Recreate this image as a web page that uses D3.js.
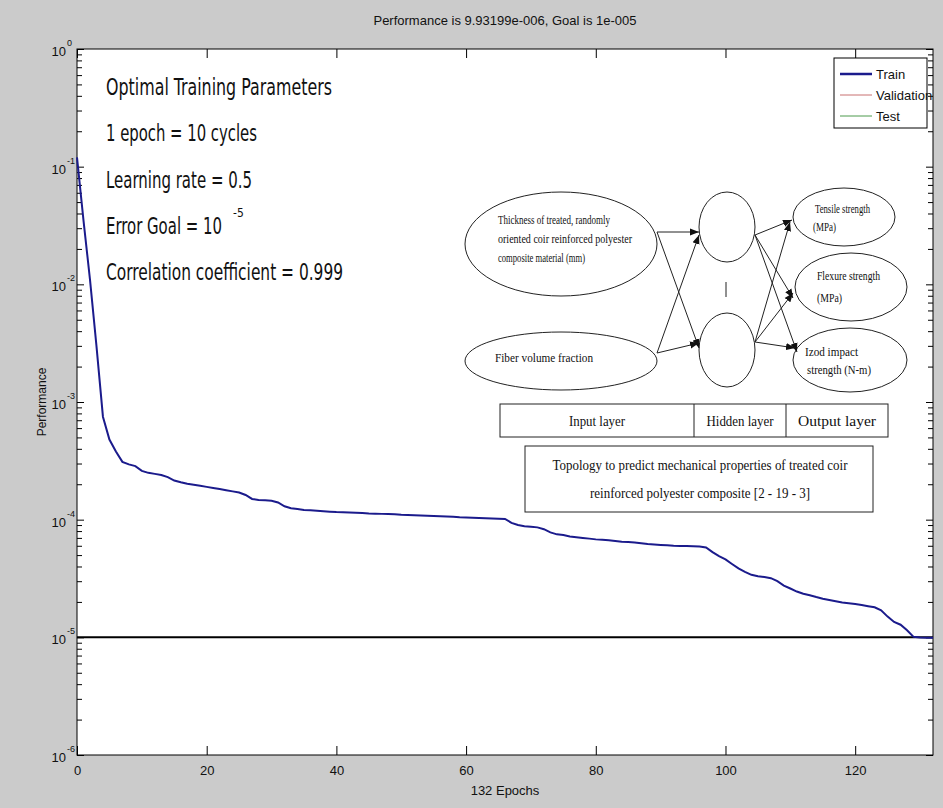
<!DOCTYPE html>
<html>
<head>
<meta charset="utf-8">
<script src="https://cdn.jsdelivr.net/npm/d3@7/dist/d3.min.js"></script>
<style>
    body { margin: 0; background: #cbcbcb; }
    #chart-area { width: 943px; height: 808px; }
    .tick text, .lbl { font-family: "Liberation Sans Narrow", Arial, "Liberation Sans", sans-serif; fill: #111; }
    .params { font-family: "Liberation Sans Narrow", "DejaVu Sans Condensed", sans-serif; fill: #111; }
    .diag { font-family: "Liberation Serif", "Times New Roman", serif; fill: #111; }
</style>
</head>
<body>
<div id="chart-area"></div>
<script>

// performance per epoch (train)
const trainPerf = [
    0.12, 0.035, 0.011, 0.003, 7.5e-4, 4.8e-4, 3.8e-4, 3.1e-4, 2.95e-4, 2.85e-4,
    2.6e-4, 2.5e-4, 2.45e-4, 2.4e-4, 2.3e-4, 2.15e-4, 2.08e-4, 2.02e-4, 1.98e-4, 1.94e-4,
    1.9e-4, 1.86e-4, 1.82e-4, 1.78e-4, 1.74e-4, 1.7e-4, 1.62e-4, 1.5e-4, 1.47e-4, 1.46e-4,
    1.45e-4, 1.4e-4, 1.3e-4, 1.25e-4, 1.23e-4, 1.21e-4, 1.2e-4, 1.19e-4, 1.18e-4, 1.17e-4,
    1.16e-4, 1.155e-4, 1.15e-4, 1.145e-4, 1.14e-4, 1.13e-4, 1.125e-4, 1.12e-4, 1.115e-4, 1.11e-4,
    1.1e-4, 1.095e-4, 1.09e-4, 1.085e-4, 1.08e-4, 1.075e-4, 1.07e-4, 1.065e-4, 1.06e-4, 1.05e-4,
    1.045e-4, 1.04e-4, 1.035e-4, 1.03e-4, 1.025e-4, 1.02e-4, 1.015e-4, 0.94e-4, 0.9e-4, 0.88e-4,
    0.87e-4, 0.86e-4, 0.83e-4, 0.78e-4, 0.75e-4, 0.74e-4, 0.72e-4, 0.71e-4, 0.7e-4, 0.69e-4,
    0.68e-4, 0.675e-4, 0.67e-4, 0.66e-4, 0.65e-4, 0.645e-4, 0.64e-4, 0.63e-4, 0.62e-4, 0.615e-4,
    0.61e-4, 0.605e-4, 0.6e-4, 0.598e-4, 0.596e-4, 0.594e-4, 0.592e-4, 0.58e-4, 0.53e-4, 0.49e-4,
    0.46e-4, 0.42e-4, 0.385e-4, 0.36e-4, 0.34e-4, 0.33e-4, 0.325e-4, 0.318e-4, 0.3e-4, 0.275e-4,
    0.26e-4, 0.245e-4, 0.235e-4, 0.228e-4, 0.22e-4, 0.213e-4, 0.208e-4, 0.203e-4, 0.198e-4, 0.195e-4,
    0.192e-4, 0.188e-4, 0.184e-4, 0.18e-4, 0.17e-4, 0.15e-4, 0.135e-4, 0.128e-4, 0.115e-4, 0.101e-4,
    0.0995e-4, 0.0994e-4, 0.0993e-4
];
const goalValue = 1e-5;
const epochDomain = [0, 132];
const perfDomain = [1e-6, 1];

// tick labels
const xTicks = [0, 20, 40, 60, 80, 100, 120];
const yTickExps = [0, -1, -2, -3, -4, -5, -6];

// legend
const legendLabels = ["Train", "Validation", "Test"];

// texts
const titleText = "Performance is 9.93199e-006, Goal is 1e-005";
const xLabelText = "132 Epochs";
const yLabelText = "Performance";
const paramLines = ["Optimal Training Parameters", "1 epoch = 10 cycles", "Learning rate = 0.5",
    "Error Goal = 10", "Correlation coefficient = 0.999"];
const paramExponents = ["", "", "", "-5", ""];
const inputLabels = [["Thickness of treated, randomly", "oriented coir reinforced polyester", "composite material (mm)"],
    ["Fiber volume fraction"]];
const outputLabels = [["Tensile strength", "(MPa)"], ["Flexure strength", "(MPa)"], ["Izod impact", "strength (N-m)"]];
const layerLabels = ["Input layer", "Hidden layer", "Output layer"];
const captionLines = ["Topology to predict mechanical properties of treated coir",
    "reinforced polyester composite [2 - 19 - 3]"];


/* * * * * * * * * * * * * *
*     class PerfChart      *
* * * * * * * * * * * * * */

class PerfChart {

    constructor(parentElement, data) {
        this.parentElement = parentElement;
        this.data = data;

        this.initVis();
    }

    initVis() {
        let vis = this;

        vis.margin = {top: 49, right: 10, bottom: 53, left: 77};
        vis.width = 943 - vis.margin.left - vis.margin.right;
        vis.height = 808 - vis.margin.top - vis.margin.bottom;

        vis.root = d3.select("#" + vis.parentElement).append("svg")
            .attr("width", 943)
            .attr("height", 808);

        vis.root.append("rect")
            .attr("width", 943).attr("height", 808)
            .attr("fill", "#cbcbcb");

        vis.svg = vis.root.append("g")
            .attr("transform", "translate(" + vis.margin.left + "," + vis.margin.top + ")");

        // plot background
        vis.svg.append("rect")
            .attr("width", vis.width)
            .attr("height", vis.height)
            .attr("fill", "#fff");

        // scales
        vis.x = d3.scaleLinear().domain(epochDomain).range([0, vis.width]);
        vis.y = d3.scaleLog().domain(perfDomain).range([vis.height, 0]);

        let allY = vis.y.ticks();
        let majorY = yTickExps.map(e => Math.pow(10, e));
        let minorY = allY.filter(v => !majorY.some(m => Math.abs(m - v) / m < 1e-6));

        // axes, ticks pointing inward
        let addAxis = (gen, tf) => {
            let g = vis.svg.append("g").attr("class", "axis");
            if (tf) g.attr("transform", tf);
            g.call(gen);
            g.select(".domain").remove();
            g.selectAll("line").attr("stroke", "#000");
            return g;
        };

        vis.xAxis = addAxis(d3.axisBottom(vis.x).tickValues(xTicks).tickSize(-9).tickPadding(11),
            "translate(0," + vis.height + ")");
        vis.xAxis.selectAll("text").attr("font-size", 13);
        addAxis(d3.axisTop(vis.x).tickValues(xTicks).tickSize(-9).tickFormat(""));

        addAxis(d3.axisLeft(vis.y).tickValues(majorY).tickSize(-7).tickFormat(""));
        addAxis(d3.axisLeft(vis.y).tickValues(minorY).tickSize(-5).tickFormat(""));
        addAxis(d3.axisRight(vis.y).tickValues(majorY).tickSize(-7).tickFormat(""),
            "translate(" + vis.width + ",0)");
        addAxis(d3.axisRight(vis.y).tickValues(minorY).tickSize(-5).tickFormat(""),
            "translate(" + vis.width + ",0)");

        // y tick labels with exponents
        let yl = vis.svg.append("g").selectAll("g")
            .data(yTickExps).enter().append("g")
            .attr("transform", d => "translate(-11," + vis.y(Math.pow(10, d)) + ")");
        yl.append("text").attr("class", "lbl")
            .attr("text-anchor", "end").attr("y", 7).attr("font-size", 13)
            .text("10");
        yl.append("text").attr("class", "lbl")
            .attr("x", 1).attr("y", -3).attr("font-size", 9)
            .text(d => d);

        // box
        vis.svg.append("rect")
            .attr("width", vis.width).attr("height", vis.height)
            .attr("fill", "none").attr("stroke", "#000").attr("stroke-width", 1);

        // title & labels
        vis.svg.append("text").attr("class", "lbl")
            .attr("x", vis.width / 2).attr("y", -24)
            .attr("text-anchor", "middle").attr("font-size", 13)
            .text(titleText);

        vis.svg.append("text").attr("class", "lbl")
            .attr("x", vis.width / 2).attr("y", vis.height + 40)
            .attr("text-anchor", "middle").attr("font-size", 13)
            .text(xLabelText);

        vis.svg.append("text").attr("class", "lbl")
            .attr("transform", "rotate(-90)")
            .attr("x", -vis.height / 2).attr("y", -31)
            .attr("text-anchor", "middle").attr("font-size", 12)
            .text(yLabelText);

        // path groups
        vis.goalLine = vis.svg.append("line");
        vis.path = vis.svg.append("path").attr("class", "path");

        vis.line = d3.line()
            .x(d => vis.x(d.epoch))
            .y(d => vis.y(d.perf));

        vis.drawLegend();
        vis.drawParams();
        vis.drawTopology();

        vis.wrangleData();
    }

    drawLegend() {
        let vis = this;
        let colors = ["#1b1b8c", "#c87070", "#4c9a4c"];
        let widths = [2.5, 1, 1];

        let lg = vis.svg.append("g")
            .attr("transform", "translate(" + (vis.width - 99) + ",9)");

        lg.append("rect")
            .attr("width", 93).attr("height", 70)
            .attr("fill", "#fff").attr("stroke", "#000");

        let row = lg.selectAll(".row").data(legendLabels).enter().append("g")
            .attr("transform", (d, i) => "translate(0," + (16 + i * 21) + ")");
        row.append("line")
            .attr("x1", 6).attr("x2", 38)
            .attr("stroke", (d, i) => colors[i])
            .attr("stroke-width", (d, i) => widths[i]);
        row.append("text").attr("class", "lbl")
            .attr("x", 42).attr("y", 5).attr("font-size", 13)
            .text(d => d);
    }

    drawParams() {
        let vis = this;
        let widths = [226, 151, 146, 116, 237];

        let pg = vis.svg.append("g").attr("transform", "translate(29,46)");
        let rows = pg.selectAll("text").data(paramLines).enter().append("text")
            .attr("class", "params")
            .attr("x", 0)
            .attr("y", (d, i) => i * 46.3)
            .attr("font-size", 23);

        rows.append("tspan")
            .attr("textLength", (d, i) => widths[i])
            .attr("lengthAdjust", "spacingAndGlyphs")
            .text(d => d);

        // exponent (error goal)
        rows.filter((d, i) => paramExponents[i] !== "")
            .append("tspan")
            .attr("x", 127).attr("dy", -17)
            .attr("font-size", 12)
            .text((d, i) => paramExponents[paramLines.indexOf(d)]);
    }

    drawTopology() {
        let vis = this;

        // inset picture, local coordinates
        let tg = vis.svg.append("g")
            .attr("transform", "translate(373,111)")
            .attr("stroke", "#222").attr("fill", "none");

        let defs = vis.root.append("defs");
        defs.append("marker")
            .attr("id", "arrow")
            .attr("viewBox", "0 0 10 10")
            .attr("refX", 10).attr("refY", 5)
            .attr("markerWidth", 9).attr("markerHeight", 9)
            .attr("markerUnits", "userSpaceOnUse")
            .attr("orient", "auto")
            .append("path")
            .attr("d", "M0,1 L10,5 L0,9 Z")
            .attr("fill", "#111").attr("stroke", "none");

        let ell = [
            {cx: 111, cy: 84, rx: 96, ry: 52},
            {cx: 111, cy: 201, rx: 96, ry: 29},
            {cx: 277, cy: 67, rx: 28, ry: 35},
            {cx: 277, cy: 190, rx: 28, ry: 37},
            {cx: 394, cy: 57, rx: 51, ry: 29},
            {cx: 401, cy: 127, rx: 56, ry: 34},
            {cx: 400, cy: 200, rx: 57, ry: 32}
        ];
        tg.selectAll("ellipse").data(ell).enter().append("ellipse")
            .attr("cx", d => d.cx).attr("cy", d => d.cy)
            .attr("rx", d => d.rx).attr("ry", d => d.ry)
            .attr("stroke-width", 1);

        tg.append("line").attr("x1", 276).attr("x2", 276).attr("y1", 122).attr("y2", 137);

        let arrows = [
            [207, 72, 249, 72], [207, 72, 249, 188], [207, 193, 249, 75], [207, 193, 249, 183],
            [305, 75, 342, 60], [305, 75, 343, 138], [305, 75, 347, 192],
            [305, 182, 340, 62], [305, 182, 343, 133], [305, 182, 345, 188]
        ];
        tg.selectAll(".arr").data(arrows).enter().append("line")
            .attr("x1", d => d[0]).attr("y1", d => d[1])
            .attr("x2", d => d[2]).attr("y2", d => d[3])
            .attr("stroke-width", 1)
            .attr("marker-end", "url(#arrow)");

        let txt = (s, x, y, w, size) => tg.append("text")
            .attr("class", "diag").attr("stroke", "none")
            .attr("x", x).attr("y", y)
            .attr("font-size", size)
            .attr("textLength", w).attr("lengthAdjust", "spacingAndGlyphs")
            .text(s);

        // inputs
        let inW = [112, 134, 87];
        inputLabels[0].forEach((s, i) => txt(s, 48, 64 + i * 19, inW[i], 12));
        txt(inputLabels[1][0], 45, 202, 98, 12);

        // outputs
        let outPos = [[365, 53, 55, 363, 71, 23], [367, 120, 63, 367, 142, 25], [355, 196, 53, 357, 214, 64]];
        outputLabels.forEach((pair, i) => {
            let p = outPos[i];
            txt(pair[0], p[0], p[1], p[2], 12);
            txt(pair[1], p[3], p[4], p[5], 12);
        });

        // layer table
        tg.append("rect").attr("x", 50).attr("y", 244).attr("width", 388).attr("height", 33)
            .attr("fill", "#fff");
        tg.append("line").attr("x1", 244).attr("x2", 244).attr("y1", 244).attr("y2", 277);
        tg.append("line").attr("x1", 336).attr("x2", 336).attr("y1", 244).attr("y2", 277);
        let cx = [147, 290, 387];
        let lw = [56, 67, 78];
        layerLabels.forEach((s, i) => {
            txt(s, cx[i] - lw[i] / 2, 266, lw[i], 14);
        });

        // caption box
        tg.append("rect").attr("x", 75).attr("y", 286).attr("width", 348).attr("height", 66)
            .attr("fill", "#fff");
        let capW = [295, 220];
        captionLines.forEach((s, i) => {
            txt(s, 250 - capW[i] / 2, 310 + i * 28, capW[i], 14.5);
        });
    }

    wrangleData() {
        let vis = this;

        vis.displayData = vis.data.map((v, i) => ({epoch: i, perf: v}));

        vis.updateVis();
    }

    updateVis() {
        let vis = this;

        // goal line
        vis.goalLine
            .attr("x1", vis.x(epochDomain[0])).attr("x2", vis.x(epochDomain[1]))
            .attr("y1", vis.y(goalValue)).attr("y2", vis.y(goalValue))
            .attr("stroke", "#000").attr("stroke-width", 2);

        // train line
        vis.path
            .datum(vis.displayData)
            .attr("d", vis.line)
            .attr("fill", "none")
            .attr("stroke", "#1b1b8c")
            .attr("stroke-width", 2);
    }
}

new PerfChart("chart-area", trainPerf);

</script>
</body>
</html>
